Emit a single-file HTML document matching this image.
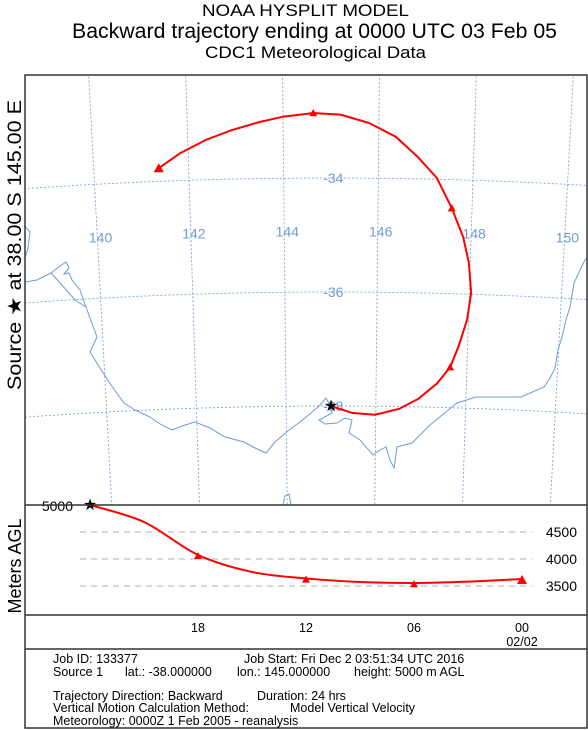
<!DOCTYPE html>
<html><head><meta charset="utf-8"><style>
body{margin:0;background:#fff;}
svg{display:block;font-family:"Liberation Sans",sans-serif;}
</style></head><body>
<svg id="c" width="588" height="730" viewBox="0 0 588 730">
<text x="305.5" y="16" font-size="17" text-anchor="middle" textLength="207" lengthAdjust="spacingAndGlyphs">NOAA HYSPLIT MODEL</text>
<text x="314.5" y="38" font-size="21" text-anchor="middle" textLength="485" lengthAdjust="spacingAndGlyphs">Backward trajectory ending at 0000 UTC 03 Feb 05</text>
<text x="315.5" y="58" font-size="17" text-anchor="middle" textLength="221" lengthAdjust="spacingAndGlyphs">CDC1 Meteorological Data</text>
<text transform="translate(21,245) rotate(-90)" font-size="19" text-anchor="middle" textLength="290" lengthAdjust="spacingAndGlyphs">Source ★  at   38.00 S  145.00 E</text>
<text transform="translate(21,566) rotate(-90)" font-size="18" text-anchor="middle">Meters AGL</text>
<g id="map"></g>
<g id="alt"></g>
<rect x="25" y="75" width="562" height="653" fill="none" stroke="#333" stroke-width="1.5"/>
<line x1="25" y1="505" x2="587" y2="505" stroke="#333" stroke-width="1.5"/>
<line x1="25" y1="615" x2="587" y2="615" stroke="#333" stroke-width="1.5"/>
<line x1="25" y1="649" x2="587" y2="649" stroke="#333" stroke-width="1.5"/>
<g font-size="12.5">
<text x="53" y="663">Job ID: 133377</text>
<text x="244" y="663">Job Start: Fri Dec  2 03:51:34 UTC 2016</text>
<text x="53" y="676">Source 1</text>
<text x="125" y="676">lat.: -38.000000</text>
<text x="237" y="676">lon.: 145.000000</text>
<text x="354" y="676">height: 5000 m AGL</text>
<text x="53" y="700">Trajectory Direction: Backward</text>
<text x="257" y="700">Duration: 24 hrs</text>
<text x="53" y="712">Vertical Motion Calculation Method:</text>
<text x="290" y="712">Model Vertical Velocity</text>
<text x="53" y="725">Meteorology: 0000Z  1 Feb 2005 - reanalysis</text>
</g>
</svg>
<script>
const trajLon=[145.0,145.47,145.98,146.52,146.94,147.35,147.63,147.81,147.97,148.04,147.97,147.83,147.57,147.24,146.83,146.36,145.79,145.21,144.63,144.0,143.5,142.93,142.38,141.83,141.37];
const trajLat=[-38.0,-38.12,-38.15,-38.04,-37.86,-37.58,-37.29,-36.9,-36.45,-35.98,-35.45,-35.0,-34.5,-33.98,-33.62,-33.27,-33.03,-32.89,-32.86,-32.92,-33.01,-33.14,-33.3,-33.52,-33.77];
const lonTicks=[140,142,144,146,148,150];
const latTicks=[-34,-36,-38];
const altHours=[24,21,18,15,12,9,6,3,0];
const altValues=[5000,4685,4075,3760,3640,3575,3555,3580,3630];
const altTicks=[4500,4000,3500];
const timeTicks=[18,12,6,0];
const timeLabels=["18","12","06","00"];

const NS="http://www.w3.org/2000/svg";
function mk(tag,attrs,parent){const e=document.createElementNS(NS,tag);for(const k in attrs)e.setAttribute(k,attrs[k]);parent.appendChild(e);return e;}
function proj(lon,lat){const r=4414+(lat+34)*57;const t=(lon-145)*0.01072;return [331+r*Math.sin(t),4592-r*Math.cos(t)];}
const map=document.getElementById('map');
const defs=mk('defs',{},map);
const cp=mk('clipPath',{id:'mc'},defs);mk('rect',{x:25,y:75,width:562,height:430},cp);
const g=mk('g',{'clip-path':'url(#mc)'},map);
const grid="#6f9bd6";
lonTicks.forEach(lon=>{let pts=[];for(let la=-30;la>=-40;la-=0.5){pts.push(proj(lon,la).join(','));}
 const l=mk('polyline',{points:pts.join(' '),fill:'none',stroke:grid,'stroke-width':0.8,'stroke-dasharray':'2,2'},g);
 
 
 const p=proj(lon,-35);const t=mk('text',{x:p[0]+3,y:p[1]+1,'font-size':14,fill:grid,'text-anchor':'middle'},g);t.textContent=lon;
 
 });
latTicks.forEach(lat=>{let pts=[];for(let lo=138;lo<=152;lo+=0.5){pts.push(proj(lo,lat).join(','));}
 const l=mk('polyline',{points:pts.join(' '),fill:'none',stroke:grid,'stroke-width':0.8,'stroke-dasharray':'2,2'},g);
 
 
 const p=proj(145.05,lat);const t=mk('text',{x:p[0],y:p[1]+5,'font-size':14,fill:grid,'text-anchor':'middle'},g);t.textContent=lat;
 
 });
const coast=mk('polyline',{points:"25,226 30,232 28,248 25,258",fill:'none',stroke:grid,'stroke-width':1},g);


const coast2=mk('polyline',{points:"25,282 37,280 51,273 60,266 66,262 69,268 64,274 69,273 72,280 80,290 86,307 97,337 90,352 100,368 109,382 116,392 124,403 135,410 150,417 160,424 172,430 182,426 195,422 210,428 225,437 244,442 255,448 266,453 275,442 289,430 300,422 311,413 320,405 326,398 330,405 332,413 319,420 325,424 337,423 345,418 352,420 349,433 360,440 373,455 380,450 386,447 390,460 394,468 397,447 412,443 430,425 457,403 476,397 500,397 521,397 544,387 550,378 555,368 558,350 562,337 566,320 570,307 572,295 574,283 580,270 585,260 588,257",fill:'none',stroke:grid,'stroke-width':1},g);


const coast3=mk('polyline',{points:"51,273 62,285 75,300 86,307",fill:'none',stroke:grid,'stroke-width':1},g);


const coast4=mk('polyline',{points:"283,505 285,496 289,494 291,505",fill:'none',stroke:grid,'stroke-width':1},g);


const tp=trajLon.map((lo,i)=>proj(lo,trajLat[i]));
const tl=mk('polyline',{points:tp.map(p=>p.join(',')).join(' '),fill:'none',stroke:'#f00','stroke-width':2},g);


function tri(x,y,s,parent,name){const t=mk('polygon',{points:`${x},${y-s} ${x-s},${y+s*0.8} ${x+s},${y+s*0.8}`,fill:'#f00'},parent);
 
 }
for(let i=6;i<tp.length;i+=6){tri(tp[i][0],tp[i][1],i===24?5:4,g,'trajectory-marker');}
function star(x,y,parent,name){const t=mk('text',{x:x,y:y+5,'font-size':16,'text-anchor':'middle'},parent);t.textContent='★';
 
 }
star(tp[0][0],tp[0][1],g,'source-star');

const alt=document.getElementById('alt');
const xs=h=>522-(h*18);
const ys=v=>505+(5000-v)*27/500;
altTicks.forEach(v=>{const l=mk('line',{x1:80,x2:532,y1:ys(v),y2:ys(v),stroke:'#999','stroke-dasharray':'6,5','stroke-width':0.8},alt);
 
 
 const t=mk('text',{x:577,y:ys(v)+5,'font-size':14,'text-anchor':'end'},alt);t.textContent=v;
 
 });
const t5=mk('text',{x:73,y:511,'font-size':14,'text-anchor':'end'},alt);t5.textContent='5000';


const ap=altHours.map((h,i)=>[xs(h),ys(altValues[i])]);
let d=`M${ap[0][0]},${ap[0][1]}`;
for(let i=0;i<ap.length-1;i++){const p0=ap[Math.max(0,i-1)],p1=ap[i],p2=ap[i+1],p3=ap[Math.min(ap.length-1,i+2)];
 d+=` C${p1[0]+(p2[0]-p0[0])/6},${p1[1]+(p2[1]-p0[1])/6} ${p2[0]-(p3[0]-p1[0])/6},${p2[1]-(p3[1]-p1[1])/6} ${p2[0]},${p2[1]}`;}
const al=mk('path',{d:d,fill:'none',stroke:'#f00','stroke-width':2},alt);


altHours.forEach((h,i)=>{if(h%6===0&&h!==24)tri(xs(h),ys(altValues[i])+1,h===0?5:4,alt,'altitude-marker');});
star(xs(24),ys(altValues[0]),alt,'altitude-source-star');
timeTicks.forEach((h,i)=>{const t=mk('text',{x:xs(h),y:632,'font-size':12.5,'text-anchor':'middle'},alt);t.textContent=timeLabels[i];
 
 });
const dl=mk('text',{x:xs(0),y:646,'font-size':12.5,'text-anchor':'middle'},alt);dl.textContent='02/02';


</script>
</body></html>
